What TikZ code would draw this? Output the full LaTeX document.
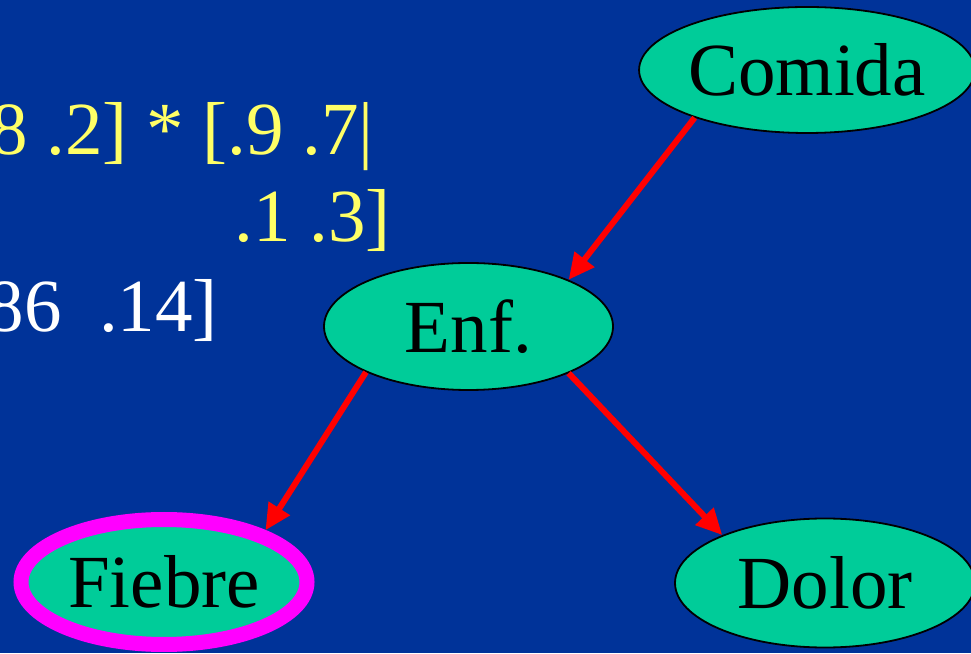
\documentclass[tikz,border=0pt]{standalone}
\usepackage{fontspec}
\setmainfont{Liberation Serif}
\usetikzlibrary{shapes.geometric,arrows.meta}
\definecolor{bgblue}{RGB}{0,51,153}
\definecolor{teal}{RGB}{0,204,153}
\definecolor{ylw}{RGB}{255,255,102}
\definecolor{mgn}{RGB}{255,0,255}
\tikzset{
  oval/.style={ellipse, fill=teal, draw=black, line width=1.8pt, inner sep=0pt,
    font=\fontsize{75}{90}\selectfont},
  link/.style={draw=red, line width=6pt, -{Triangle[length=26pt,width=24pt]}},
  eq/.style={inner sep=0pt, anchor=base east, font=\fontsize{75}{90}\selectfont}
}
\begin{document}
\begin{tikzpicture}[x=1pt,y=1pt]
\fill[bgblue] (0,0) rectangle (971,653);
\useasboundingbox (0,0) rectangle (971,653);
\node[oval, minimum width=326pt, minimum height=126pt] (Comida) at (807,583) {Comida};
\node[oval, minimum width=289pt, minimum height=127pt] (Enf) at (468.5,326.5) {Enf.};
\node[oval, draw=mgn, line width=15pt, minimum width=286pt, minimum height=125pt] (Fiebre) at (164,71) {Fiebre};
\node[oval, minimum width=300pt, minimum height=129pt] (Dolor) at (825,70) {Dolor};
\node[eq, text=ylw] (l1) at (374,498) {8 .2] * [.9 .7|};
\node[eq, text=ylw] (l2) at (391,411) {.1 .3]};
\node[eq, text=white] (l3) at (218,321) {86\ \ .14]};
\draw[link] (Comida.203) -- (Enf.25);
\draw[link] (Enf.204.5) -- (Fiebre.27);
\draw[link] (Enf.335.5) -- (Dolor.155);
\end{tikzpicture}
\end{document}
